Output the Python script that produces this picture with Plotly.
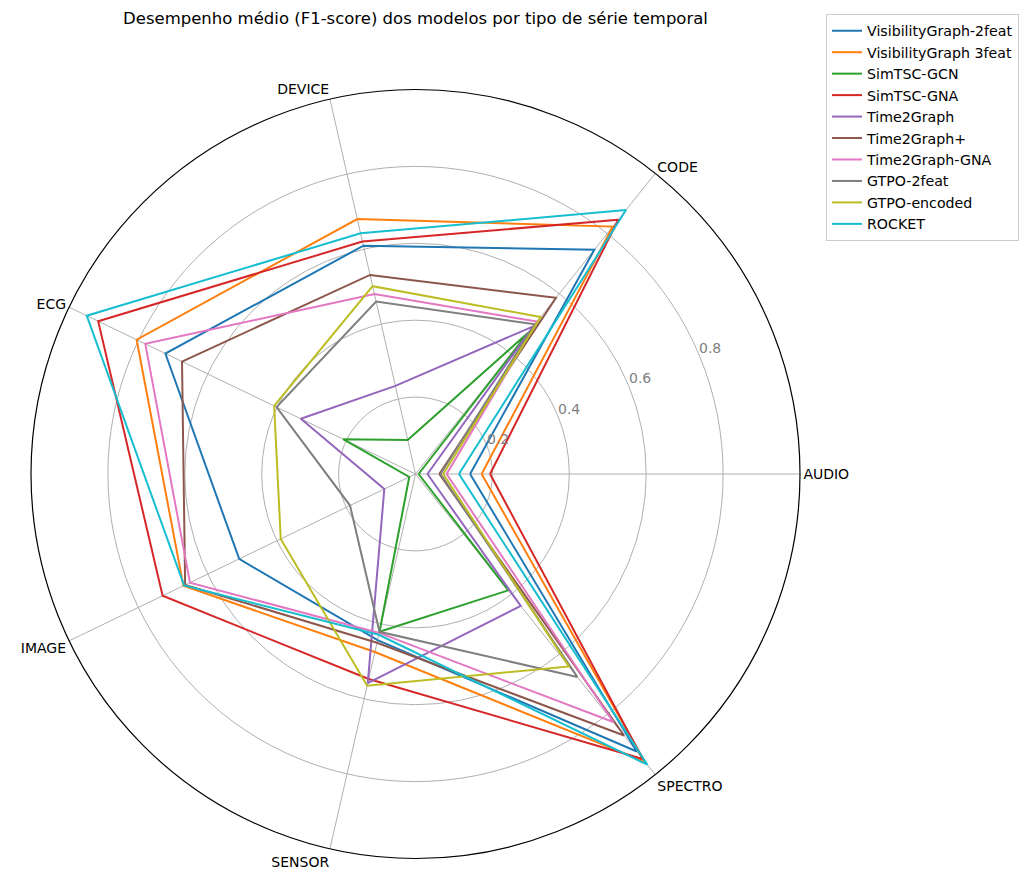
import math
import plotly.graph_objects as go

categories = ["AUDIO", "CODE", "DEVICE", "ECG", "IMAGE", "SENSOR", "SPECTRO"]

vg_2feat = [0.142, 0.746, 0.609, 0.722, 0.509, 0.443, 0.923]
vg_3feat = [0.172, 0.823, 0.680, 0.805, 0.670, 0.475, 0.957]
simtsc_gcn = [0.008, 0.470, 0.091, 0.209, 0.018, 0.421, 0.387]
simtsc_gna = [0.194, 0.846, 0.620, 0.916, 0.730, 0.547, 0.948]
time2graph = [0.031, 0.491, 0.235, 0.331, 0.090, 0.558, 0.439]
time2graph_plus = [0.062, 0.586, 0.531, 0.674, 0.665, 0.450, 0.870]
time2graph_gna = [0.081, 0.507, 0.480, 0.780, 0.651, 0.424, 0.825]
gtpo_2feat = [0.065, 0.498, 0.460, 0.401, 0.189, 0.421, 0.675]
gtpo_encoded = [0.072, 0.522, 0.501, 0.408, 0.389, 0.565, 0.640]
rocket = [0.113, 0.878, 0.642, 0.949, 0.668, 0.429, 0.967]

series_names = ["VisibilityGraph-2feat", "VisibilityGraph 3feat", "SimTSC-GCN", "SimTSC-GNA",
                "Time2Graph", "Time2Graph+", "Time2Graph-GNA", "GTPO-2feat", "GTPO-encoded", "ROCKET"]
series_values = [vg_2feat, vg_3feat, simtsc_gcn, simtsc_gna, time2graph, time2graph_plus,
                 time2graph_gna, gtpo_2feat, gtpo_encoded, rocket]
colors = ["#1f77b4", "#ff7f0e", "#2ca02c", "#d62728", "#9467bd", "#8c564b",
          "#e377c2", "#7f7f7f", "#bcbd22", "#17becf"]

radial_ticks = [0.2, 0.4, 0.6, 0.8]

W, H = 1022, 870
cx, cy, R = 415.5, 474.0, 384.5

fig = go.Figure()
for name, vals, col in zip(series_names, series_values, colors):
    fig.add_trace(go.Scatterpolar(
        r=vals + vals[:1],
        theta=categories + categories[:1],
        mode="lines",
        name=name,
        line=dict(color=col, width=2),
    ))

# radial tick labels, placed like matplotlib's (at 22.5 deg, horizontal)
label_angle = math.radians(23.1)
annotations = []
for v in radial_ticks:
    rp = v * R + 13
    annotations.append(dict(
        text=str(v), showarrow=False, xref="paper", yref="paper",
        x=(cx + rp * math.cos(label_angle)) / W,
        y=1 - (cy - rp * math.sin(label_angle)) / H,
        xanchor="center", yanchor="middle",
        font=dict(size=14, color="#808080"),
    ))

fig.update_layout(
    width=W, height=H,
    margin=dict(l=0, r=0, t=0, b=0),
    paper_bgcolor="white",
    font=dict(family="DejaVu Sans", size=14, color="black"),
    title=dict(text="Desempenho médio (F1-score) dos modelos por tipo de série temporal",
               x=cx / W, xanchor="center", xref="paper",
               y=1 - 18 / H, yanchor="middle", yref="container",
               font=dict(size=16.5, color="black")),
    polar=dict(
        domain=dict(x=[(cx - R) / W, (cx + R) / W], y=[1 - (cy + R) / H, 1 - (cy - R) / H]),
        bgcolor="white",
        radialaxis=dict(range=[0, 1], tickvals=radial_ticks, showticklabels=False,
                        angle=22.5, showline=False, ticks="",
                        gridcolor="#b0b0b0", gridwidth=1),
        angularaxis=dict(categoryorder="array", categoryarray=categories,
                         rotation=0, direction="counterclockwise",
                         showline=True, linecolor="black", linewidth=1.2,
                         gridcolor="#b0b0b0", gridwidth=1, ticks="",
                         tickfont=dict(size=14, color="black")),
    ),
    annotations=annotations,
    showlegend=True,
    legend=dict(x=826 / W, y=1 - 14 / H, xanchor="left", yanchor="top",
                bordercolor="#cccccc", borderwidth=1, bgcolor="white",
                font=dict(size=14.2, color="black")),
)

fig.write_html("out.html", config={"displayModeBar": False},
               post_script="document.body.style.margin='0';document.body.style.overflow='hidden';")
